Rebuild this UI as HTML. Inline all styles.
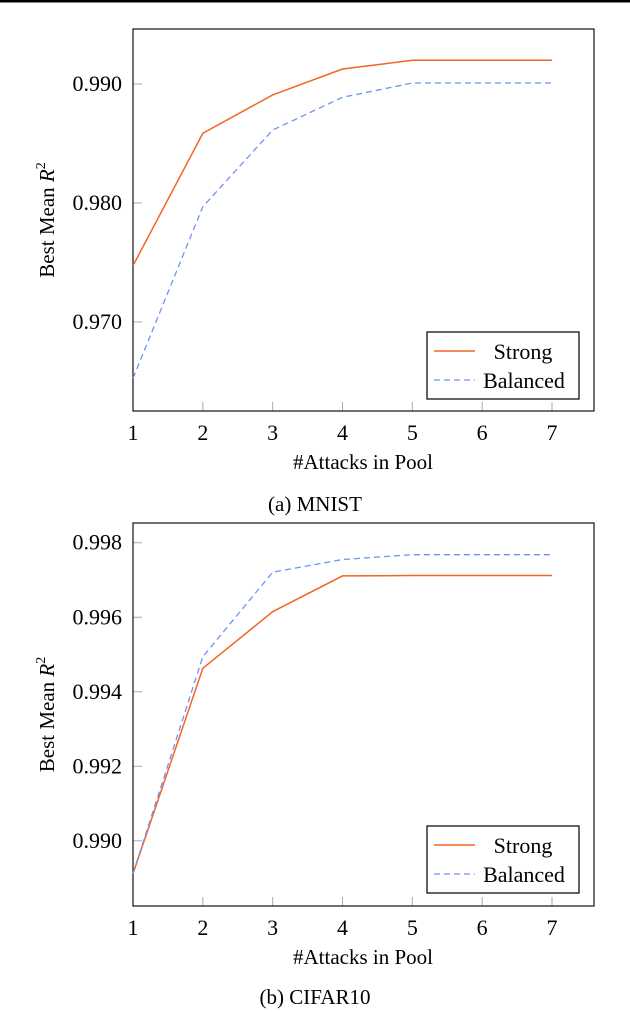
<!DOCTYPE html>
<html><head><meta charset="utf-8"><style>
body{margin:0;background:#fff;}
svg{display:block;font-family:"Liberation Serif",serif;}
</style></head><body>
<svg id="c" width="630" height="1012" viewBox="0 0 630 1012">
<rect x="0" y="0" width="630" height="2.5" fill="#000"/>
</svg>
<script>
const xCats=[1,2,3,4,5,6,7];
const mnistStrong=[0.97473,0.98586,0.98908,0.99126,0.99199,0.99199,0.99199];
const mnistBalanced=[0.96527,0.97969,0.98613,0.98888,0.99008,0.99008,0.99008];
const mnistYTicks=[0.970,0.980,0.990];
const mnistYLabels=["0.970","0.980","0.990"];
const cifarStrong=[0.98912,0.99463,0.99615,0.99711,0.99712,0.99712,0.99712];
const cifarBalanced=[0.98912,0.99494,0.99721,0.99755,0.99768,0.99768,0.99768];
const cifarYTicks=[0.990,0.992,0.994,0.996,0.998];
const cifarYLabels=["0.990","0.992","0.994","0.996","0.998"];

const svg=document.getElementById('c');
const NS='http://www.w3.org/2000/svg';
function mk(tag,attrs,parent){const e=document.createElementNS(NS,tag);for(const k in attrs)e.setAttribute(k,attrs[k]);(parent||svg).appendChild(e);return e;}

function chart(o){
  const g=mk('g',{});
  
  
  const L=133,R=594,T=o.top,B=o.bottom;
  const xs=v=>L+(v-1)*(552-L)/6;
  const ys=v=>B-(v-o.ymin)*(B-T)/(o.ymax-o.ymin);
  o.yTicks.forEach((t,i)=>{
    const y=ys(t);
    const tk=mk('line',{x1:L,x2:L+9,y1:y,y2:y,stroke:'#aaa','stroke-width':1},g);
    
    
    const tx=mk('text',{x:122,y:y+7,'text-anchor':'end','font-size':22},g);
    tx.textContent=o.yLabels[i];
    
    
  });
  xCats.forEach(c=>{
    const x=xs(c);
    const tk=mk('line',{x1:x,x2:x,y1:B,y2:B-9,stroke:'#aaa','stroke-width':1},g);
    
    
    const tx=mk('text',{x:x,y:B+29,'text-anchor':'middle','font-size':22},g);
    tx.textContent=String(c);
    
    
  });
  const box=mk('rect',{x:L,y:T,width:R-L,height:B-T,fill:'none',stroke:'#222','stroke-width':1.3},g);
  
  
  const pts=a=>a.map((v,i)=>xs(xCats[i])+','+ys(v)).join(' ');
  const s=mk('polyline',{points:pts(o.strong),fill:'none',stroke:'#f26522','stroke-width':1.5},g);
  
  
  const b=mk('polyline',{points:pts(o.balanced),fill:'none',stroke:'#6f93f5','stroke-width':1.3,'stroke-dasharray':'6 4'},g);
  
  
  const lg=mk('g',{},g);
  
  
  mk('rect',{x:427,y:o.legTop,width:152,height:67,fill:'#fff',stroke:'#111','stroke-width':1.3},lg);
  const e1=mk('line',{x1:434,x2:475,y1:o.legTop+19,y2:o.legTop+19,stroke:'#f26522','stroke-width':1.5},lg);
  
  
  const t1=mk('text',{x:523,y:o.legTop+27,'text-anchor':'middle','font-size':22},lg);
  t1.textContent='Strong';
  
  
  const e2=mk('line',{x1:434,x2:475,y1:o.legTop+48,y2:o.legTop+48,stroke:'#6f93f5','stroke-width':1.3,'stroke-dasharray':'6 4'},lg);
  
  
  const t2=mk('text',{x:524,y:o.legTop+56,'text-anchor':'middle','font-size':22},lg);
  t2.textContent='Balanced';
  
  
  const xt=mk('text',{x:363,y:B+58,'text-anchor':'middle','font-size':21},g);
  xt.textContent='#Attacks in Pool';
  
  
  const cy=(T+B)/2;
  const yt=mk('text',{x:54,y:cy,'text-anchor':'middle','font-size':21,transform:'rotate(-90 54 '+cy+')'},g);
  yt.innerHTML='Best Mean <tspan font-style="italic">R</tspan><tspan font-size="14" dy="-9">2</tspan>';
  
  
  const cap=mk('text',{x:315,y:o.capY,'text-anchor':'middle','font-size':21},g);
  cap.textContent=o.caption;
  
  
}
chart({name:'mnist-chart',top:29,bottom:411,ymin:0.96252,ymax:0.99462,yTicks:mnistYTicks,yLabels:mnistYLabels,strong:mnistStrong,balanced:mnistBalanced,legTop:332,capY:511,caption:'(a) MNIST'});
chart({name:'cifar10-chart',top:523,bottom:906,ymin:0.98825,ymax:0.99853,yTicks:cifarYTicks,yLabels:cifarYLabels,strong:cifarStrong,balanced:cifarBalanced,legTop:826,capY:1004,caption:'(b) CIFAR10'});
</script>
</body></html>
